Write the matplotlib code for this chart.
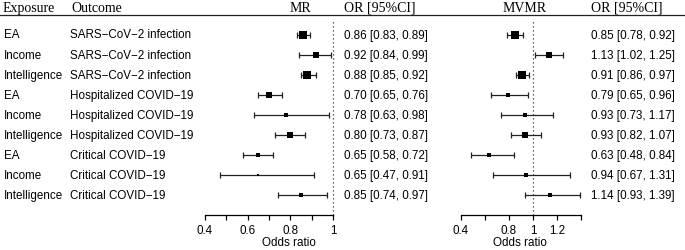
import numpy as np
import matplotlib.pyplot as plt

exposure = ["EA", "Income", "Intelligence"] * 3
outcome = ["SARS\u2212CoV\u22122 infection"] * 3 + ["Hospitalized COVID\u221219"] * 3 + ["Critical COVID\u221219"] * 3

mr_or = [0.86, 0.92, 0.88, 0.70, 0.78, 0.80, 0.65, 0.65, 0.85]
mr_lo = [0.83, 0.84, 0.85, 0.65, 0.63, 0.73, 0.58, 0.47, 0.74]
mr_hi = [0.89, 0.99, 0.92, 0.76, 0.98, 0.87, 0.72, 0.91, 0.97]

mvmr_or = [0.85, 1.13, 0.91, 0.79, 0.93, 0.93, 0.63, 0.94, 1.14]
mvmr_lo = [0.78, 1.02, 0.86, 0.65, 0.73, 0.82, 0.48, 0.67, 0.93]
mvmr_hi = [0.92, 1.25, 0.97, 0.96, 1.17, 1.07, 0.84, 1.31, 1.39]

W, H = 685, 251
SANS = "Liberation Sans"
SERIF = "Liberation Serif"

fig = plt.figure(figsize=(W / 100, H / 100), dpi=100)


def fx(x):
    return x / W


def fy(y):
    return 1 - y / H


def row_y(i):
    return 35.5 + 20.1 * i


n = len(exposure)

# header
hy = 8.5
fig.text(fx(3), fy(hy), "Exposure", family=SERIF, size=10, va="center")
fig.text(fx(71), fy(hy), "Outcome", family=SERIF, size=10, va="center")
fig.text(fx(300), fy(hy), "MR", family=SERIF, size=10, va="center", ha="center")
fig.text(fx(344), fy(hy), "OR [95%CI]", family=SERIF, size=10, va="center")
fig.text(fx(525), fy(hy), "MVMR", family=SERIF, size=10, va="center", ha="center")
fig.text(fx(591), fy(hy), "OR [95%CI]", family=SERIF, size=10, va="center")
fig.add_artist(plt.Line2D([0, 1], [fy(15.5), fy(15.5)], color="#222222", lw=0.9))

# body text
for i in range(n):
    y = fy(row_y(i))
    fig.text(fx(4), y, exposure[i], family=SANS, size=8.4, va="center")
    fig.text(fx(70), y, outcome[i], family=SANS, size=8.4, va="center")
    fig.text(fx(344), y, f"{mr_or[i]:.2f} [{mr_lo[i]:.2f}, {mr_hi[i]:.2f}]",
             family=SANS, size=8.4, va="center")
    fig.text(fx(591), y, f"{mvmr_or[i]:.2f} [{mvmr_lo[i]:.2f}, {mvmr_hi[i]:.2f}]",
             family=SANS, size=8.4, va="center")


def forest(x0, x1, xlim, ticks, labels, est, lo, hi, xlab_x):
    top, bot = 20, 216
    ax = fig.add_axes([fx(x0), fy(bot), fx(x1) - fx(x0), fy(top) - fy(bot)])
    ax.set_xlim(*xlim)
    ax.set_ylim((bot - 35.5) / 20.1, (top - 35.5) / 20.1)
    est = np.array(est)
    lo = np.array(lo)
    hi = np.array(hi)
    w = 1 / ((np.log(hi) - np.log(lo)) / 3.92)
    sizes = 8.2 * np.sqrt(w / w.max()) / 1.389
    ax.axvline(1, color="#333333", lw=0.9, ls=(0, (1, 2.2)), clip_on=False)
    for i in range(len(est)):
        ax.errorbar(est[i], i, xerr=[[est[i] - lo[i]], [hi[i] - est[i]]],
                    fmt="none", ecolor="#222222", elinewidth=0.9, capsize=2, capthick=0.9)
        ax.plot(est[i], i, marker="s", ms=sizes[i], color="black", mew=0)
    for s in ["top", "right", "left"]:
        ax.spines[s].set_visible(False)
    ax.spines["bottom"].set_bounds(ticks[0], ticks[-1])
    ax.spines["bottom"].set_linewidth(0.9)
    ax.set_yticks([])
    ax.set_xticks(ticks)
    ax.set_xticklabels(labels, family=SANS, size=8.4)
    ax.tick_params(axis="x", length=3.8, width=0.9, pad=2.5)
    ax.patch.set_alpha(0)
    fig.text(fx(xlab_x), fy(243), "Odds ratio", family=SANS, size=8.4, va="center", ha="center")
    return ax


forest(205, 333, (0.4, 1.0), [0.4, 0.5, 0.6, 0.7, 0.8, 0.9, 1.0],
       ["0.4", "", "0.6", "", "0.8", "", "1"], mr_or, mr_lo, mr_hi, 289)
forest(461, 581, (0.4, 1.4), [0.4, 0.6, 0.8, 1.0, 1.2, 1.4],
       ["0.4", "", "0.8", "1", "1.2", ""], mvmr_or, mvmr_lo, mvmr_hi, 520)

fig.savefig("out.png", dpi=100)
